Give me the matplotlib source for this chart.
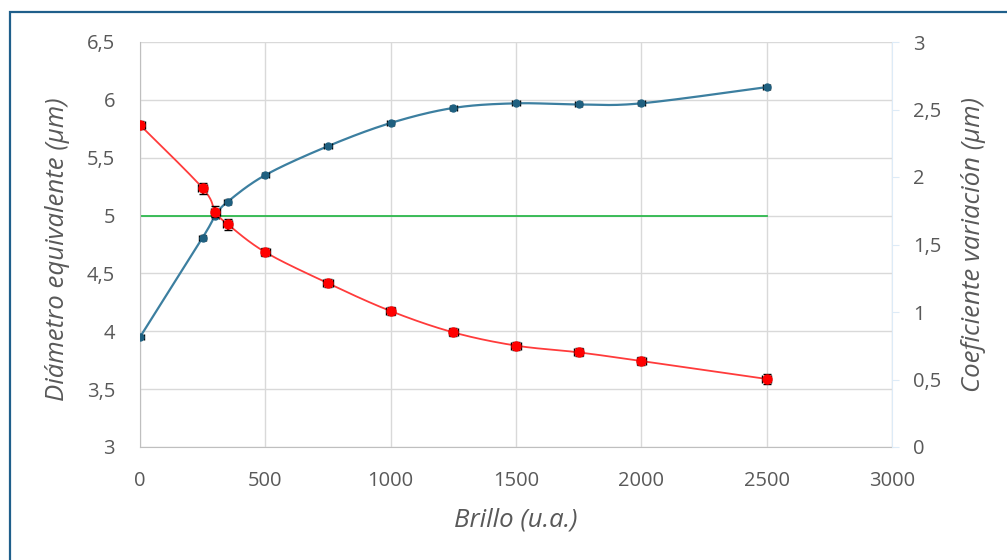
import numpy as np
import matplotlib
matplotlib.use("Agg")
from matplotlib import pyplot as plt
from matplotlib.ticker import FuncFormatter, MultipleLocator
from matplotlib.patches import Rectangle

# brillo thresholds
brillo = [0, 250, 300, 350, 500, 750, 1000, 1250, 1500, 1750, 2000, 2500]

# diámetro equivalente (left axis, µm)
diametro = [3.95, 4.81, 5.00, 5.12, 5.35, 5.60, 5.80, 5.93, 5.97, 5.96, 5.97, 6.11]
diametro_err = [0.02, 0.02, 0.02, 0.02, 0.01, 0.01, 0.01, 0.01, 0.01, 0.01, 0.01, 0.02]

# coeficiente de variación (right axis)
cv = [2.385, 1.917, 1.743, 1.650, 1.443, 1.213, 1.007, 0.849, 0.751, 0.701, 0.637, 0.504]
cv_err = [0.03, 0.04, 0.04, 0.04, 0.03, 0.03, 0.03, 0.03, 0.03, 0.03, 0.03, 0.04]

referencia = 5.0

grey = "#595959"
grid_c = "#D9D9D9"
blue_line = "#3C7FA0"
blue_mark = "#1F6080"
red = "#FF0000"
green = "#2DB84D"


def smooth(x, y, n=30):
    # catmull-rom style smoothing through every point
    p = np.column_stack([x, y]).astype(float)
    p = np.vstack([p[0], p, p[-1]])
    out = []
    for i in range(1, len(p) - 2):
        p0, p1, p2, p3 = p[i - 1], p[i], p[i + 1], p[i + 2]
        c1 = p1 + (p2 - p0) / 6.0
        c2 = p2 - (p3 - p1) / 6.0
        t = np.linspace(0, 1, n)[:, None]
        seg = ((1 - t) ** 3) * p1 + 3 * ((1 - t) ** 2) * t * c1 + 3 * (1 - t) * t ** 2 * c2 + t ** 3 * p2
        out.append(seg)
    s = np.vstack(out)
    return s[:, 0], s[:, 1]


plt.rcParams["font.family"] = ["Open Sans", "DejaVu Sans"]

W, H = 1007, 560
fig = plt.figure(figsize=(W / 100, H / 100), dpi=100)
ax = fig.add_axes([140 / W, 1 - 447 / H, 752 / W, 405 / H])
ax2 = ax.twinx()

# frame around the chart
fig.patches.append(Rectangle((10 / W, -0.1), 1.2, 1 - 12 / H + 0.1, transform=fig.transFigure,
                             fill=False, edgecolor="#1F5F8B", linewidth=1.6, zorder=0))

ax.set_xlim(0, 3000)
ax.set_ylim(3, 6.5)
ax2.set_ylim(0, 3)

ax.xaxis.set_major_locator(MultipleLocator(500))
ax.yaxis.set_major_locator(MultipleLocator(0.5))
ax2.yaxis.set_major_locator(MultipleLocator(0.5))

comma = FuncFormatter(lambda v, p: f"{v:g}".replace(".", ","))
ax.yaxis.set_major_formatter(comma)
ax2.yaxis.set_major_formatter(comma)

ax.grid(True, color=grid_c, linewidth=1.0)
ax.set_axisbelow(True)

for s in ["top", "right"]:
    ax.spines[s].set_visible(False)
for s in ["top", "left", "bottom"]:
    ax2.spines[s].set_visible(False)
ax.spines["left"].set_color("#BFBFBF")
ax.spines["bottom"].set_color("#BFBFBF")
ax2.spines["right"].set_color("#DDEBF7")

ax.tick_params(axis="x", length=0, labelsize=14.5, labelcolor=grey, pad=17)
ax.tick_params(axis="y", length=0, labelsize=14.5, labelcolor=grey, pad=18)
ax2.tick_params(axis="y", length=5, color="#DDEBF7", labelsize=14.5, labelcolor=grey, pad=10)

# axis titles
lab = dict(fontsize=18.5, style="italic", color=grey, ha="center", va="center")
fig.text(516 / W, 1 - 520 / H, "Brillo (u.a.)", **lab)
fig.text(57 / W, 1 - 249 / H, "Diámetro equivalente (µm)", rotation=90, **lab)
fig.text(973 / W, 1 - 244 / H, "Coeficiente variación (µm)", rotation=90, **lab)

# reference line
ax.plot([brillo[0], brillo[-1]], [referencia, referencia], color=green, linewidth=1.3, zorder=2)

# diámetro series
sx, sy = smooth(brillo, diametro)
ax.plot(sx, sy, color=blue_line, linewidth=1.6, zorder=3)
ax.errorbar(brillo, diametro, xerr=14, yerr=diametro_err, fmt="o", color=blue_mark, ms=5,
            ecolor="black", elinewidth=1.0, capsize=2.5, zorder=4)

# coeficiente de variación series
rx, ry = smooth(brillo, cv)
ax2.plot(rx, ry, color="#FF3B3B", linewidth=1.3, zorder=3)
ax2.errorbar(brillo, cv, xerr=18, yerr=cv_err, fmt="o", color=red, ms=6.5,
             ecolor="black", elinewidth=1.6, capsize=3, zorder=4)

fig.savefig("out.png", dpi=100)
